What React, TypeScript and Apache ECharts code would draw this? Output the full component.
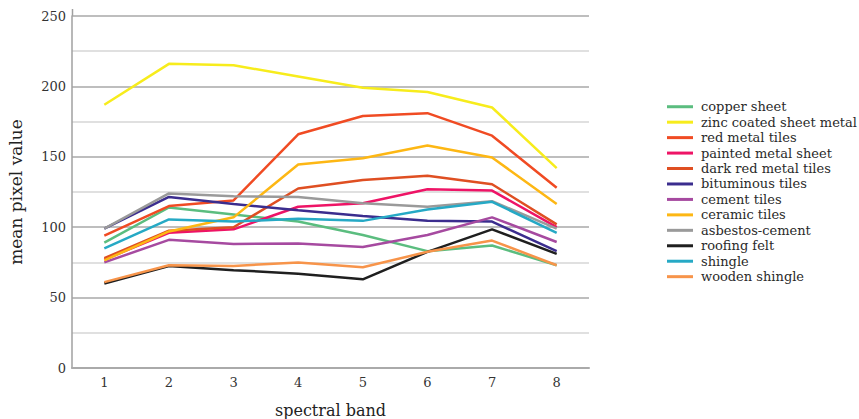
import React, { useEffect, useRef } from "react";
import * as echarts from "echarts";

const bands = ["1", "2", "3", "4", "5", "6", "7", "8"];

const seriesNames = [
  "copper sheet",
  "zinc coated sheet metal",
  "red metal tiles",
  "painted metal sheet",
  "dark red metal tiles",
  "bituminous tiles",
  "cement tiles",
  "ceramic tiles",
  "asbestos-cement",
  "roofing felt",
  "shingle",
  "wooden shingle",
];

const copperSheet = [89, 114, 109, 104, 94.5, 83, 87, 73];
const zincCoated = [187, 216, 215, 207, 199, 196, 185, 142];
const redMetalTiles = [94, 115, 119, 166, 179, 181, 165, 128];
const paintedMetal = [77, 96, 98.5, 114.5, 117, 127, 126, 100];
const darkRedMetal = [78, 97.5, 100, 127.5, 133.5, 136.5, 130.5, 102];
const bituminous = [99, 121.5, 116.5, 112, 108, 104.5, 104, 83];
const cementTiles = [75, 91, 88, 88.5, 86, 94.5, 107, 89.5];
const ceramicTiles = [76.5, 97, 107, 144.5, 149, 158, 149.5, 116.5];
const asbestos = [99, 124, 122, 121.5, 117, 114.5, 118.5, 99];
const roofingFelt = [60, 72.5, 69.5, 67, 63, 82.5, 98.5, 81];
const shingle = [85, 105.5, 104, 106, 104.5, 112.5, 118, 96];
const woodenShingle = [61, 73, 72.5, 75, 71.5, 82.5, 90.5, 73];

const seriesData = [
  copperSheet,
  zincCoated,
  redMetalTiles,
  paintedMetal,
  darkRedMetal,
  bituminous,
  cementTiles,
  ceramicTiles,
  asbestos,
  roofingFelt,
  shingle,
  woodenShingle,
];

const colors = [
  "#5bbd7f",
  "#f7ec1c",
  "#f04b23",
  "#ee1466",
  "#df4f22",
  "#3b2d8e",
  "#a64aa0",
  "#fdb714",
  "#9a9a9a",
  "#1f1f1f",
  "#26a9c5",
  "#f7944a",
];

const FONT = "'DejaVu Serif', serif";

export default function App() {
  const ref = useRef<HTMLDivElement>(null);
  useEffect(() => {
    if (!ref.current) return;
    const chart = echarts.init(ref.current, undefined, { renderer: "svg" });
    chart.setOption({
      animation: false,
      backgroundColor: "#ffffff",
      textStyle: { fontFamily: FONT },
      grid: {
        left: 72,
        right: 270,
        top: 16,
        bottom: 51,
        containLabel: false,
        outerBoundsMode: "none",
      },
      legend: {
        orient: "vertical",
        left: 667,
        top: 99,
        icon: "rect",
        itemWidth: 26,
        itemHeight: 3,
        itemGap: 0,
        data: seriesNames,
        textStyle: {
          fontFamily: FONT,
          fontSize: 13,
          lineHeight: 15.45,
          color: "#2a2a2a",
          padding: [0, 0, 0, 3],
        },
        padding: 0,
      },
      xAxis: {
        type: "category",
        data: bands,
        boundaryGap: true,
        name: "spectral band",
        nameLocation: "middle",
        nameGap: 34,
        nameTextStyle: { fontFamily: FONT, fontSize: 16, color: "#222" },
        axisLine: { lineStyle: { color: "#aaaaaa", width: 2 } },
        axisTick: { show: false },
        axisLabel: { fontFamily: FONT, fontSize: 13, color: "#333", margin: 8 },
        splitLine: { show: false },
      },
      yAxis: {
        type: "value",
        min: 0,
        max: 250,
        interval: 25,
        name: "mean pixel value",
        nameLocation: "middle",
        nameGap: 48,
        nameTextStyle: { fontFamily: FONT, fontSize: 17, color: "#222" },
        axisLine: { show: true, lineStyle: { color: "#a0a0a0", width: 1.5 } },
        axisTick: { show: false },
        axisLabel: {
          fontFamily: FONT,
          fontSize: 13,
          color: "#333",
          margin: 6,
          formatter: (v: number) => (v % 50 === 0 ? String(v) : ""),
        },
        splitLine: {
          show: true,
          lineStyle: { color: ["#a8a8a8", "#d6d6d6"], width: 1.5 },
        },
      },
      graphic: [
        {
          type: "line",
          shape: { x1: 72.5, y1: 9, x2: 72.5, y2: 16 },
          style: { stroke: "#a0a0a0", lineWidth: 1.5 },
        },
      ],
      series: seriesNames.map((name, i) => ({
        name,
        type: "line",
        data: seriesData[i],
        symbol: "none",
        color: colors[i],
        lineStyle: { width: 2.5, color: colors[i] },
        z: 2 + i,
      })),
    });
    return () => chart.dispose();
  }, []);
  return (
    <div
      ref={ref}
      style={{ position: "absolute", left: 0, top: 0, width: 859, height: 419 }}
    />
  );
}
